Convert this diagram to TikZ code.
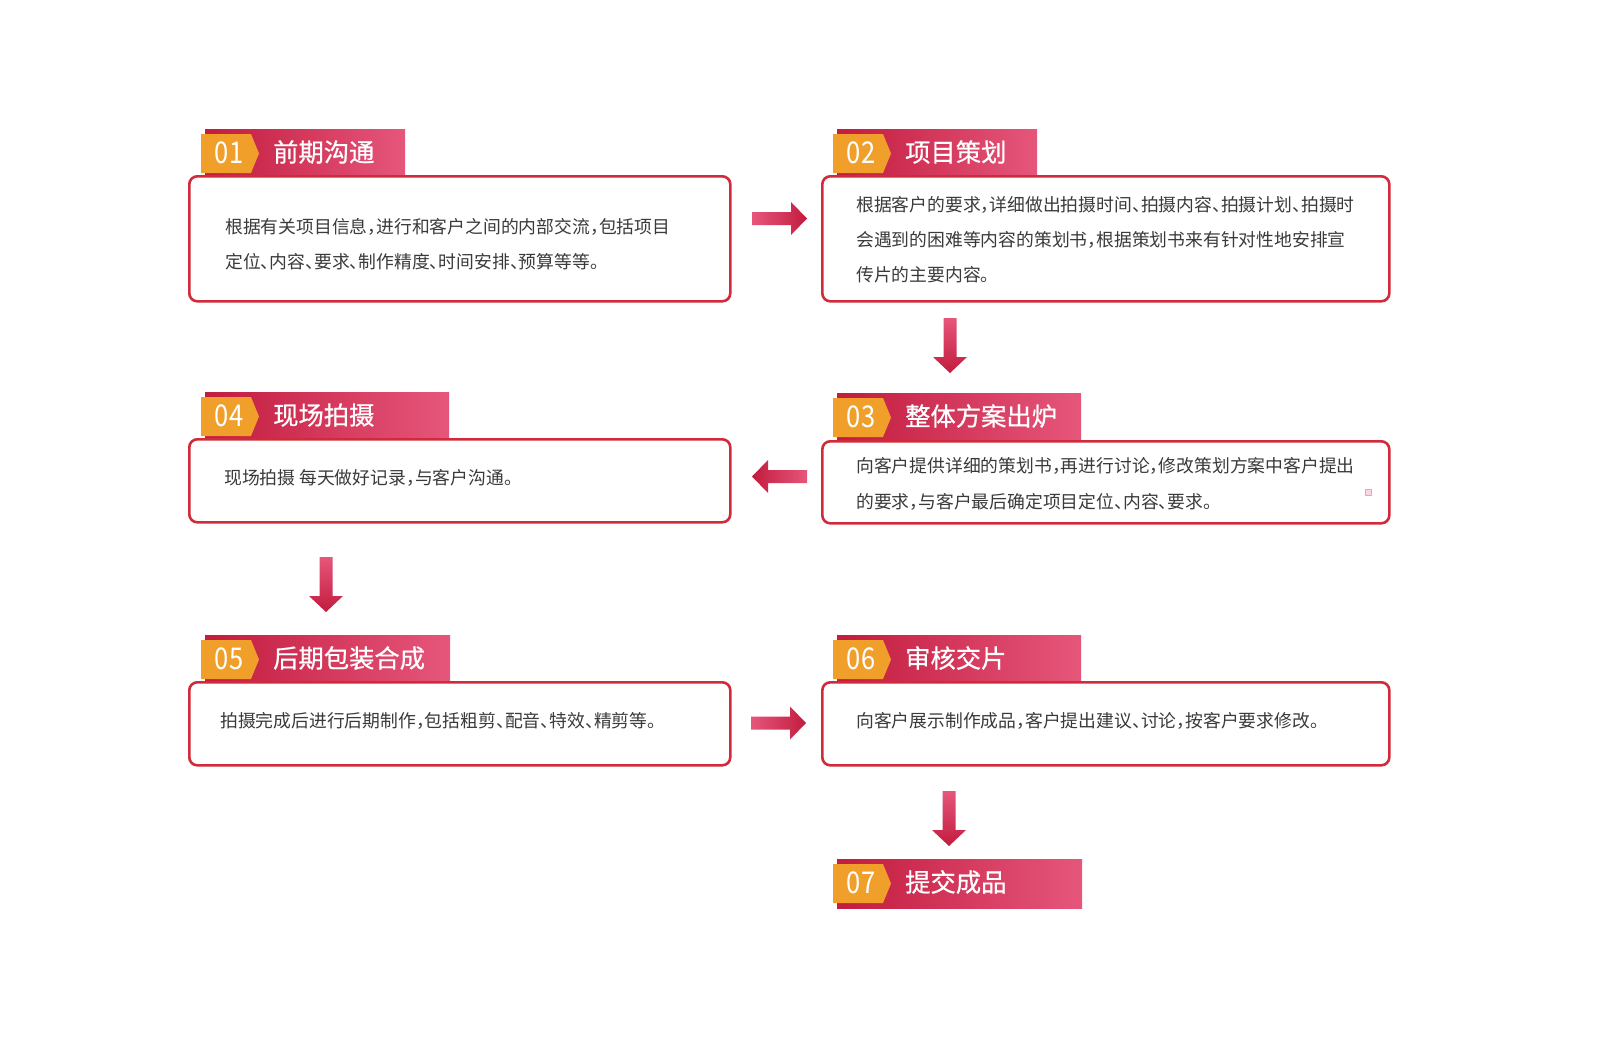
\documentclass[tikz,border=0pt]{standalone}
\usepackage{fontspec}
\newfontfamily\cjk[FakeBold=0.6]{Noto Sans CJK SC}
\newfontfamily\cjkbody[RawFeature=+halt]{Noto Sans CJK SC}
\newfontfamily\numfont[FakeStretch=0.85]{Noto Sans CJK SC}
\definecolor{crim}{HTML}{C21C3E}
\definecolor{pinkr}{HTML}{E6567B}
\definecolor{orng}{HTML}{F0A02A}
\definecolor{boxred}{HTML}{D02A3B}
\definecolor{txt}{HTML}{3A3A3A}
\definecolor{markpink}{HTML}{F2A2B2}
\definecolor{markfill}{HTML}{FBD6DD}
\tikzset{
  stepbox/.style={draw=boxred, line width=2.6pt, rounded corners=8pt, fill=white, inner sep=0pt, anchor=north west},
  bodytext/.style={font=\cjkbody\fontsize{17.8}{20}\selectfont, text=txt, anchor=west, inner sep=0pt},
  titletext/.style={font=\cjk\fontsize{25.3}{28}\selectfont, text=white, anchor=west, inner sep=0pt},
  numtext/.style={font=\numfont\fontsize{30}{32}\selectfont, text=white, inner sep=0pt},
}
% #1 x, #2 top, #3 width, #4 number, #5 title
\newcommand\mkbanner[5]{%
  \shade[left color=crim, right color=pinkr] (#1+4,#2) rectangle ++(#3,49);
  \fill[orng] (#1,#2+5) -- ++(50,0) -- ++(8,19.5) -- ++(-8,19.5) -- ++(-50,0) -- cycle;
  \node[numtext] (n#4) at (#1+28,#2+24) {#4};
  \node[titletext] (h#4) at (#1+72,#2+23) {#5};
}
\newcommand\rarrowshape[2]{%
  \shade[left color=pinkr, right color=crim] (#1-55,#2-6.5) -- (#1-16,#2-6.5) -- (#1-16,#2-16.5) -- (#1,#2) -- (#1-16,#2+16.5) -- (#1-16,#2+6.5) -- (#1-55,#2+6.5) -- cycle;
}
\newcommand\larrowshape[2]{%
  \shade[left color=crim, right color=pinkr] (#1+55,#2-6.5) -- (#1+16,#2-6.5) -- (#1+16,#2-16.5) -- (#1,#2) -- (#1+16,#2+16.5) -- (#1+16,#2+6.5) -- (#1+55,#2+6.5) -- cycle;
}
\newcommand\darrowshape[2]{%
  \shade[top color=pinkr, bottom color=crim] (#1-6.5,#2-55) -- (#1-6.5,#2-16) -- (#1-17,#2-16) -- (#1,#2) -- (#1+17,#2-16) -- (#1+6.5,#2-16) -- (#1+6.5,#2-55) -- cycle;
}
\begin{document}
\begin{tikzpicture}[x=1pt,y=-1pt]
\fill[white] (0,0) rectangle (1600,1055);
\useasboundingbox (0,0) rectangle (1600,1055);

% banners
\mkbanner{201}{129}{200}{01}{前期沟通}
\mkbanner{833}{129}{200}{02}{项目策划}
\mkbanner{201}{392}{244}{04}{现场拍摄}
\mkbanner{833}{393}{244}{03}{整体方案出炉}
\mkbanner{201}{635}{245}{05}{后期包装合成}
\mkbanner{833}{635}{244}{06}{审核交片}
\mkbanner{833}{859}{245}{07}{提交成品}

% boxes
\node[stepbox, minimum width=541pt, minimum height=125pt] (b1) at (188,175) {};
\node[stepbox, minimum width=567pt, minimum height=125pt] (b2) at (821,175) {};
\node[stepbox, minimum width=541pt, minimum height=83pt] (b4) at (188,438) {};
\node[stepbox, minimum width=567pt, minimum height=82pt] (b3) at (821,440) {};
\node[stepbox, minimum width=541pt, minimum height=83pt] (b5) at (188,681) {};
\node[stepbox, minimum width=567pt, minimum height=83pt] (b6) at (821,681) {};

% texts
\node[bodytext] (t1a) at (225,227) {根据有关项目信息，进行和客户之间的内部交流，包括项目};
\node[bodytext] (t1b) at (225,262) {定位、内容、要求、制作精度、时间安排、预算等等。};
\node[bodytext] (t2a) at (856,205) {根据客户的要求，详细做出拍摄时间、拍摄内容、拍摄计划、拍摄时};
\node[bodytext] (t2b) at (856,240) {会遇到的困难等内容的策划书，根据策划书来有针对性地安排宣};
\node[bodytext] (t2c) at (856,275) {传片的主要内容。};
\node[bodytext] (t4a) at (224,478) {现场拍摄 每天做好记录，与客户沟通。};
\node[bodytext] (t3a) at (856,466) {向客户提供详细的策划书，再进行讨论，修改策划方案中客户提出};
\node[bodytext] (t3b) at (856,502) {的要求，与客户最后确定项目定位、内容、要求。};
\node[bodytext] (t5a) at (220,721) {拍摄完成后进行后期制作，包括粗剪、配音、特效、精剪等。};
\node[bodytext] (t6a) at (856,721) {向客户展示制作成品，客户提出建议、讨论，按客户要求修改。};

% small mark
\draw[markpink, fill=markfill, line width=0.8pt] (1365,489) rectangle (1371,495);

% arrows
\rarrowshape{807}{218.5}
\darrowshape{950}{373}
\larrowshape{752}{476.5}
\darrowshape{326}{612}
\rarrowshape{806}{723}
\darrowshape{949}{846}
\end{tikzpicture}
\end{document}
